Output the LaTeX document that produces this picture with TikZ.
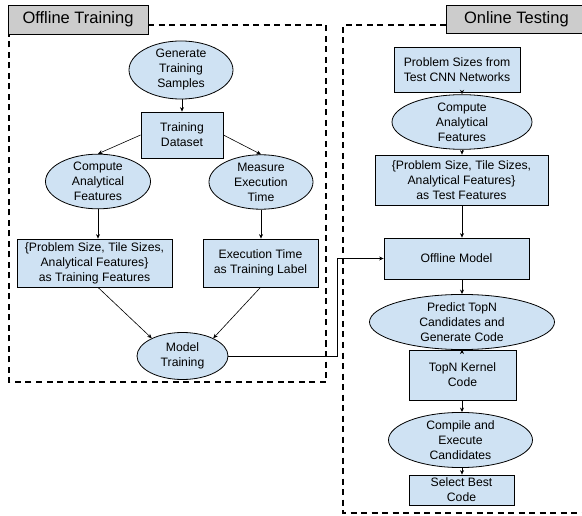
\documentclass[tikz,border=0pt]{standalone}
\usepackage{fontspec}
\setmainfont{Liberation Sans}
\usetikzlibrary{shapes.geometric,arrows.meta}
\definecolor{boxblue}{HTML}{CFE2F3}
\definecolor{tabgray}{HTML}{CCCCCC}

\begin{document}
\begin{tikzpicture}[x=1pt,y=-1pt,
  every node/.style={font=\fontsize{12.2}{15}\selectfont,align=center,inner sep=0pt},
  stepnode/.style={draw,fill=boxblue,line width=0.8pt,rectangle},
  tasknode/.style={draw,fill=boxblue,line width=0.8pt,ellipse},
  tabnode/.style={draw,fill=tabgray,line width=0.8pt,rectangle,
    font=\fontsize{16.5}{18}\selectfont},
  phase/.style={line width=1.3pt,dash pattern=on 6pt off 4.5pt},
  flow/.style={line width=0.6pt,-{Stealth[length=4.5pt,width=4pt]}}
]
\useasboundingbox (0,0) rectangle (582,516);
\clip (0,0) rectangle (582,516);

\draw[phase] (148,25) -- (326,25) -- (326,382) -- (9,382) -- (9,34);
\draw[phase] (446,25) -- (343,25) -- (343,513) -- (600,513);

\node[tabnode,minimum width=140pt,minimum height=29pt] (offtab) at (78,19.5) {Offline Training};
\node[tabnode,minimum width=150pt,minimum height=28pt,anchor=west] (ontab) at (446,19) {\hspace*{-10pt}Online Testing};

\node[tasknode,minimum width=104pt,minimum height=54pt] (gen) at (181,70) {Generate\\Training\\Samples};
\node[stepnode,minimum width=82pt,minimum height=46pt] (dataset) at (182,135) {Training\\Dataset};
\node[tasknode,minimum width=105pt,minimum height=49pt] (compL) at (98,181.5) {Compute\\Analytical\\Features};
\node[tasknode,minimum width=104pt,minimum height=50pt] (meas) at (261,182) {Measure\\Execution\\Time};
\node[stepnode,minimum width=155pt,minimum height=48pt] (featL) at (94.5,263) {\{Problem Size, Tile Sizes,\\Analytical Features\}\\as Training Features};
\node[stepnode,minimum width=115pt,minimum height=48pt] (label) at (260.5,263) {Execution Time\\as Training Label};
\node[tasknode,minimum width=91pt,minimum height=47pt] (model) at (182.5,356) {Model\\Training};

\node[stepnode,minimum width=126pt,minimum height=45pt] (prob) at (457,69.5) {Problem Sizes from\\Test CNN Networks};
\node[tasknode,minimum width=140pt,minimum height=50pt] (compR) at (462,122) {Compute\\Analytical\\Features};
\node[stepnode,minimum width=173pt,minimum height=50pt] (featR) at (461.5,180) {\{Problem Size, Tile Sizes,\\Analytical Features\}\\as Test Features};
\node[stepnode,minimum width=145pt,minimum height=41pt] (offm) at (456.5,258.5) {Offline Model};
\node[tasknode,minimum width=185pt,minimum height=50pt] (pred) at (462,322) {Predict TopN\\Candidates and\\Generate Code};
\node[stepnode,minimum width=107pt,minimum height=50pt] (kern) at (462.5,375) {TopN Kernel\\Code};
\node[tasknode,minimum width=144pt,minimum height=44pt] (exec) at (460.5,440) {Compile and\\Execute\\Candidates};
\node[stepnode,minimum width=105pt,minimum height=30pt] (best) at (461.5,490) {Select Best\\Code};

\draw[flow] (gen.south -| dataset) -- (dataset.north);
\draw[flow] (dataset.west) -- (compL.north);
\draw[flow] (dataset.east) -- (meas.north);
\draw[flow] (compL.south) -- (compL.south |- featL.north);
\draw[flow] (meas.south) -- (meas.south |- label.north);
\draw[flow] (compL.south |- featL.south) -- (model.150);
\draw[flow] (label.south) -- (model.30);
\draw[flow] (model.east) -- (337,356) |- (offm.west);

\draw[flow] (prob.south -| compR) -- (compR.north);
\draw[flow] (compR.south) -- (compR.south |- featR.north);
\draw[flow] (featR.south -| compR) -- (offm.north -| compR);
\draw[flow] (offm.south -| pred) -- (pred.north);
\draw[flow] (pred.south) -- (pred.south |- kern.north);
\draw[flow] (kern.south -| pred) -- (pred.south |- exec.north);
\draw[flow] (exec.south -| pred) -- (pred.south |- best.north);
\end{tikzpicture}
\end{document}
